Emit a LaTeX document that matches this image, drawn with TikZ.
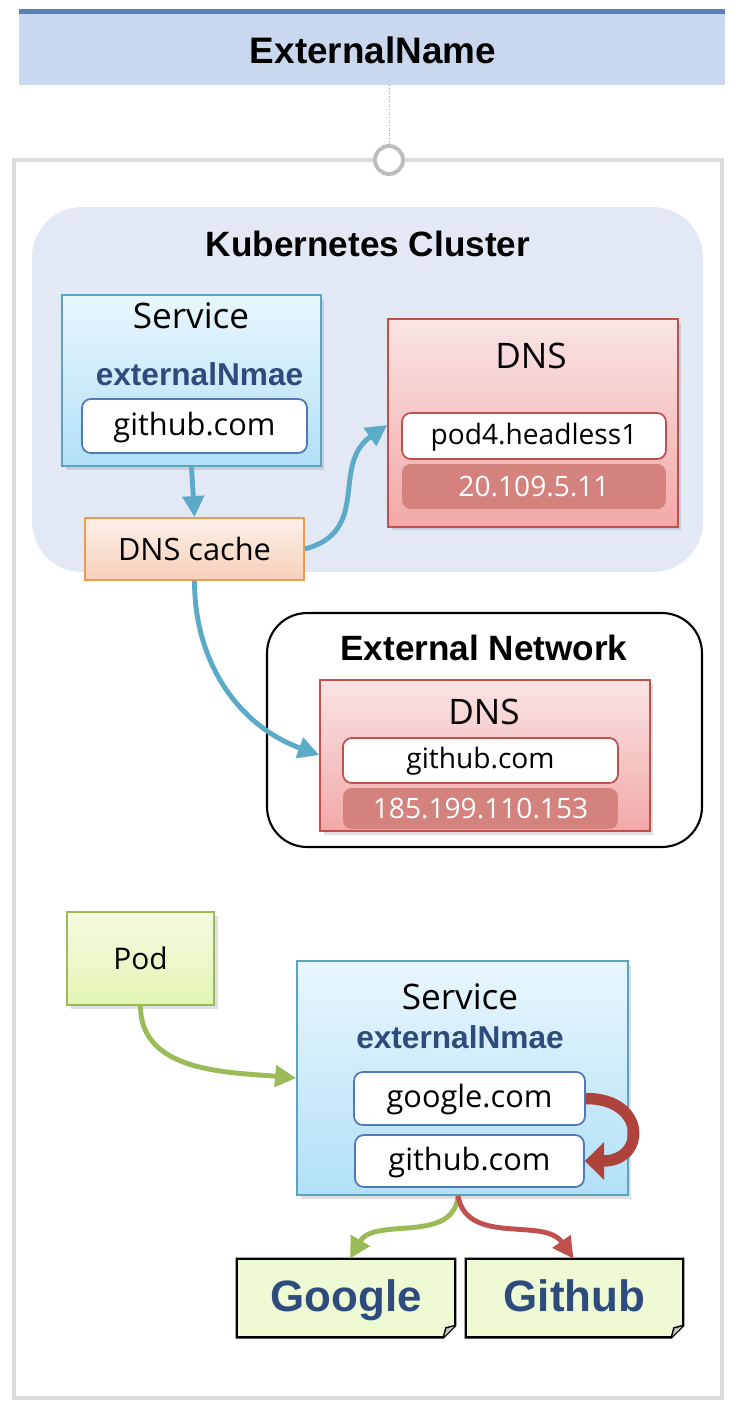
\documentclass[tikz,border=0pt]{standalone}
\usepackage{fontspec}
\setmainfont{Open Sans}
\newfontfamily\headfont{Liberation Sans}
\usetikzlibrary{arrows.meta,shadows,backgrounds}

\definecolor{bandfill}{HTML}{C9D8EE}
\definecolor{bandline}{HTML}{5B7DB8}
\definecolor{framegray}{HTML}{DCDCDC}
\definecolor{ringgray}{HTML}{BDBDBD}
\definecolor{clusterfill}{HTML}{E3E8F5}
\definecolor{svctop}{HTML}{E8F6FD}
\definecolor{svcbot}{HTML}{B2E0F8}
\definecolor{svcline}{HTML}{5BA3BE}
\definecolor{entryline}{HTML}{5079BC}
\definecolor{cachetop}{HTML}{FCF0E9}
\definecolor{cachebot}{HTML}{F6D0B9}
\definecolor{cacheline}{HTML}{F09A50}
\definecolor{dnstop}{HTML}{FAE4E4}
\definecolor{dnsbot}{HTML}{F2A8A8}
\definecolor{dnsline}{HTML}{C0504D}
\definecolor{ipred}{HTML}{D4827E}
\definecolor{podtop}{HTML}{F5FBE0}
\definecolor{podbot}{HTML}{E1F5B4}
\definecolor{podline}{HTML}{9BBB59}
\definecolor{notefill}{HTML}{EDFAD4}
\definecolor{kindblue}{HTML}{2E4B7D}
\definecolor{flowblue}{HTML}{5BAAC8}
\definecolor{flowgreen}{HTML}{9BBB59}
\definecolor{flowred}{HTML}{C0504D}
\definecolor{bendred}{HTML}{AE433C}

\tikzset{
  box/.style={rectangle, inner sep=0pt, line width=1pt},
  shadowed/.style={drop shadow={opacity=0.25, shadow xshift=2pt, shadow yshift=-2pt}},
  svcbox/.style={box, draw=svcline, top color=svctop, bottom color=svcbot, shadowed},
  cachebox/.style={box, draw=cacheline, top color=cachetop, bottom color=cachebot, font=\fontsize{17.5}{21}\selectfont},
  dnsbox/.style={box, draw=dnsline, top color=dnstop, bottom color=dnsbot, shadowed},
  podbox/.style={box, draw=podline, top color=podtop, bottom color=podbot, shadowed, font=\fontsize{17}{20}\selectfont},
  entry/.style={box, draw=entryline, fill=white, rounded corners=5pt, text depth=0.25em, font=\fontsize{17.5}{21}\selectfont},
  dnsentry/.style={box, draw=dnsline, fill=white, rounded corners=5pt, text depth=0.25em, font=\fontsize{16}{19}\selectfont},
  ipentry/.style={box, fill=ipred, rounded corners=5pt, text=white, font=\fontsize{16}{19}\selectfont},
  headtext/.style={font=\headfont\bfseries\fontsize{20}{24}\selectfont},
  boxtitle/.style={font=\fontsize{20}{24}\selectfont},
  kindtext/.style={text=kindblue, font=\headfont\bfseries\fontsize{18}{22}\selectfont},
  notebox/.style={inner sep=0pt, text=kindblue, text height=20pt, text depth=5pt, font=\headfont\bfseries\fontsize{25}{30}\selectfont},
  flow/.style={line width=2.8pt, -{Triangle[length=12pt,width=12pt]}},
}

\begin{document}
\begin{tikzpicture}[x=0.02cm, y=-0.02cm]
\useasboundingbox (0,0) rectangle (738,1416);

\node[fill=bandfill, minimum width=14.12cm, minimum height=1.46cm, inner sep=0pt] (band) at (372,48.5) {};
\draw[bandline, line width=2.5pt] (band.north west) -- (band.north east);
\node[font=\headfont\bfseries\fontsize{21}{25}\selectfont] (bandtitle) at (373,50) {ExternalName};

\draw[framegray, line width=2.8pt] (14,160) rectangle (722,1398);
\node[circle, draw=ringgray, fill=white, line width=2.2pt, minimum size=0.56cm, inner sep=0pt] (ring) at (389,160) {};
\draw[gray!70, line width=0.5pt, densely dotted] (band.south -| ring) -- (ring.north);

\node[fill=clusterfill, rounded corners=1cm, minimum width=13.42cm, minimum height=7.3cm, inner sep=0pt] (cluster) at (367.5,389.5) {};
\node[headtext] (clustertitle) at (368,244) {Kubernetes Cluster};

\node[svcbox, minimum width=5.18cm, minimum height=3.42cm] (svc1) at (191.5,380.5) {};
\node[boxtitle] (svc1title) at (191,316) {Service};
\node[kindtext] (svc1kind) at (199.5,374) {externalNmae};
\node[entry, minimum width=4.5cm, minimum height=1.08cm] (svc1host) at (194.5,426) {github.com};

\node[cachebox, minimum width=4.38cm, minimum height=1.24cm] (cache) at (194.5,549) {DNS cache};

\node[dnsbox, minimum width=5.8cm, minimum height=4.16cm] (dns1) at (533,423) {};
\node[boxtitle] (dns1title) at (531,356) {DNS};
\node[dnsentry, minimum width=5.28cm, minimum height=0.92cm] (dns1host) at (534,436) {pod4.headless1};
\node[ipentry, minimum width=5.28cm, minimum height=0.9cm] (dns1ip) at (534,486.5) {20.109.5.11};

\node[draw, line width=1.2pt, rounded corners=0.8cm, minimum width=8.7cm, minimum height=4.68cm, inner sep=0pt] (extnet) at (484.5,730) {};
\node[headtext] (extnettitle) at (484,648) {External Network};
\node[dnsbox, minimum width=6.6cm, minimum height=3.02cm] (dns2) at (485,755.5) {};
\node[boxtitle] (dns2title) at (484,712) {DNS};
\node[dnsentry, minimum width=5.5cm, minimum height=0.9cm] (dns2host) at (480.5,760.5) {github.com};
\node[ipentry, minimum width=5.5cm, minimum height=0.82cm] (dns2ip) at (480.5,808.5) {185.199.110.153};

\draw[flow, flowblue] (svc1.south) -- (cache.north);
\draw[flow, flowblue] (cache.east) to[out=15, in=215, looseness=1.2] (dns1.west |- 0,425);
\draw[flow, flowblue] (cache.south) to[out=-90, in=160] (dns2.west |- 0,755);

\node[podbox, minimum width=2.94cm, minimum height=1.86cm] (pod) at (140.5,958.5) {Pod};

\node[svcbox, minimum width=6.62cm, minimum height=4.68cm] (svc2) at (462.5,1078) {};
\node[boxtitle] (svc2title) at (460,997) {Service};
\node[kindtext] (svc2kind) at (460,1037) {externalNmae};
\node[entry, minimum width=4.62cm, minimum height=1.06cm] (svc2goo) at (469.5,1098.5) {google.com};
\node[entry, minimum width=4.58cm, minimum height=1.04cm] (svc2git) at (469.5,1161) {github.com};

\draw[flow, flowgreen] (pod.south) to[out=-90, in=175] (svc2.west |- 0,1078);
\draw[line width=6.5pt, bendred, -{Triangle[length=11pt,width=21pt]}] (svc2goo.east) to[out=0, in=0, looseness=2.5] (svc2git.east);

\node[notebox, minimum width=4.36cm, minimum height=1.56cm] (google) at (346,1298) {Google};
\node[notebox, minimum width=4.34cm, minimum height=1.56cm] (github) at (574.5,1298) {Github};
\begin{scope}[on background layer]
\foreach \n in {google,github} {
  \draw[fill=notefill, line width=1.3pt] (\n.north west) -- (\n.north east) -- ([yshift=0.24cm]\n.south east) -- ([xshift=-0.24cm]\n.south east) -- (\n.south west) -- cycle;
  \draw[fill=gray!45, line width=0.8pt] ([yshift=0.24cm]\n.south east) -- ([xshift=-0.19cm, yshift=0.19cm]\n.south east) -- ([xshift=-0.24cm]\n.south east);
}
\end{scope}

\draw[flow, flowgreen] ([xshift=-0.09cm]svc2.south) to[out=-95, in=60] ([xshift=0.08cm]google.north);
\draw[flow, flowred] ([xshift=-0.09cm]svc2.south) to[out=-80, in=125] ([xshift=-0.02cm]github.north);
\end{tikzpicture}
\end{document}
